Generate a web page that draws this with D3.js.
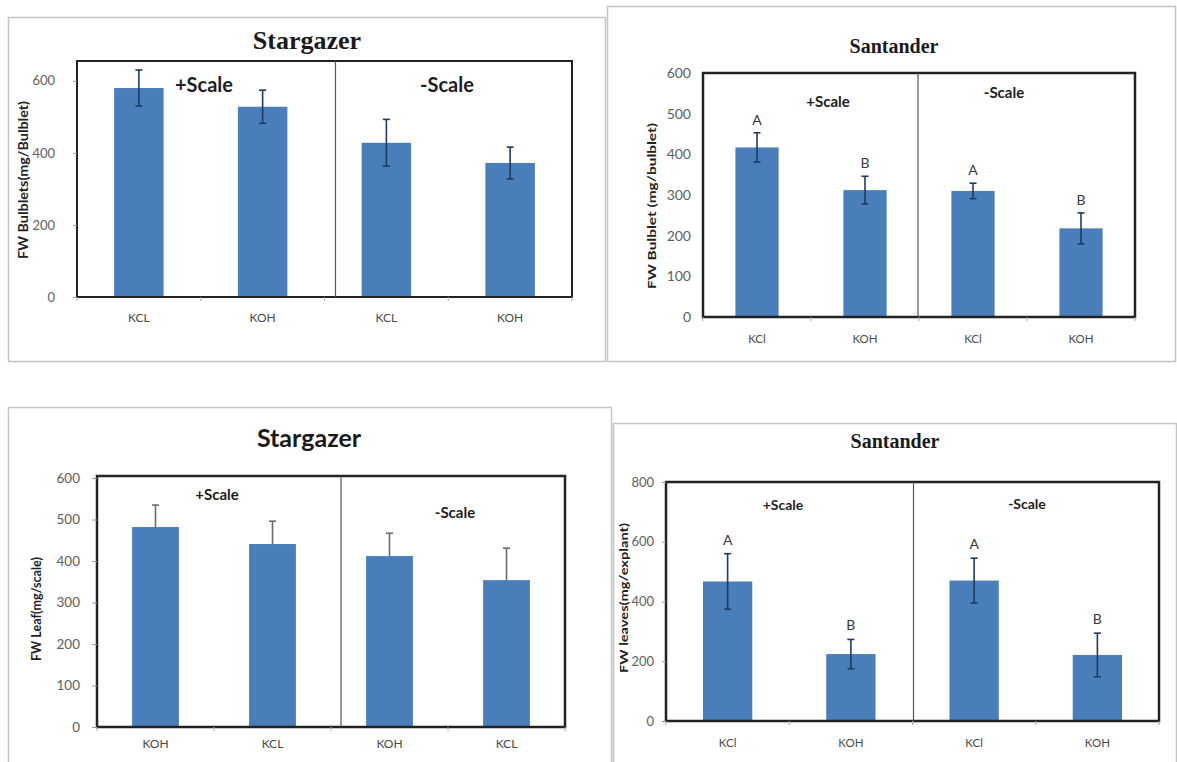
<!DOCTYPE html>
<html>
<head>
<meta charset="utf-8">
<script src="https://cdn.jsdelivr.net/npm/d3@7"></script>
<style>
  html, body { margin: 0; padding: 0; background: #fff; }
  svg { display: block; }
</style>
</head>
<body>
<svg id="chart" width="1177" height="762"></svg>
<script>
// ---- Data: fresh weight means and error bars ----
const groupLabels = ["+Scale", "-Scale"];

// Stargazer, bulblets
const bulbletCatsStar = ["KCL", "KOH", "KCL", "KOH"];
const bulbletMeansStar = [580, 528, 428, 372];
const bulbletErrStar = [50, 46, 65, 44];
const bulbletTicksStar = [0, 200, 400, 600];

// Santander, bulblets
const bulbletCatsSant = ["KCl", "KOH", "KCl", "KOH"];
const bulbletMeansSant = [417, 312, 310, 218];
const bulbletErrSant = [36, 34, 19, 38];
const bulbletLettersSant = ["A", "B", "A", "B"];
const bulbletTicksSant = [0, 100, 200, 300, 400, 500, 600];

// Stargazer, leaves
const leafCatsStar = ["KOH", "KCL", "KOH", "KCL"];
const leafMeansStar = [482, 441, 412, 354];
const leafErrStar = [53, 55, 55, 77];
const leafTicksStar = [0, 100, 200, 300, 400, 500, 600];

// Santander, leaves
const leafCatsSant = ["KCl", "KOH", "KCl", "KOH"];
const leafMeansSant = [467, 224, 470, 221];
const leafErrSant = [93, 49, 75, 73];
const leafLettersSant = ["A", "B", "A", "B"];
const leafTicksSant = [0, 200, 400, 600, 800];

const BAR = "#4a7ebb";
const svg = d3.select("#chart");

const panels = [
  {
    cats: bulbletCatsStar, means: bulbletMeansStar, errs: bulbletErrStar, ticks: bulbletTicksStar,
    box: [8, 17, 605, 361], plot: { l: 77, t: 61, r: 572, b: 297 }, yMax: 655,
    title: "Stargazer", titleFont: "Liberation Serif", titleSize: 26, titleX: 307, titleY: 49,
    yLabel: "FW Bulblets(mg/Bulblet)", yLabelX: 25, yLabelY: 180, yLabelLen: 158, yLabelSize: 12.5,
    groupPos: [[204, 92], [447, 92]], groupSize: 20,
    dividerShift: 11, errColor: "#1f3a62", errBoth: true,
    tickSize: 4, tickPad: 18, tickFont: 13, xPad: 16, xFont: 12, frameW: 2
  },
  {
    cats: bulbletCatsSant, means: bulbletMeansSant, errs: bulbletErrSant, ticks: bulbletTicksSant,
    letters: bulbletLettersSant, letterGap: 8,
    box: [607, 6, 1175, 361], plot: { l: 703, t: 73, r: 1135, b: 317 }, yMax: 600,
    title: "Santander", titleFont: "Liberation Serif", titleSize: 20, titleX: 894, titleY: 53,
    yLabel: "FW Bulblet  (mg/bulblet)", yLabelX: 653, yLabelY: 206, yLabelLen: 166, yLabelSize: 12,
    groupPos: [[828, 107], [1004, 98]], groupSize: 15,
    dividerShift: -1, errColor: "#1f3a62", errBoth: true,
    tickSize: 0, tickPad: 12, tickFont: 14, xPad: 18, xFont: 11.5, frameW: 2.5
  },
  {
    cats: leafCatsStar, means: leafMeansStar, errs: leafErrStar, ticks: leafTicksStar,
    box: [8, 407, 611, 775], plot: { l: 97, t: 476, r: 565, b: 727 }, yMax: 605,
    title: "Stargazer", titleFont: "Lato", titleSize: 25, titleX: 309, titleY: 447,
    yLabel: "FW Leaf(mg/scale)", yLabelX: 38, yLabelY: 609, yLabelLen: 104, yLabelSize: 13,
    groupPos: [[217, 500], [455, 518]], groupSize: 15,
    dividerShift: 10, errColor: "#6b6b6b", errBoth: false,
    tickSize: 5, tickPad: 12, tickFont: 13.5, xPad: 12, xFont: 12, frameW: 2.5
  },
  {
    cats: leafCatsSant, means: leafMeansSant, errs: leafErrSant, ticks: leafTicksSant,
    letters: leafLettersSant, letterGap: 9,
    box: [613, 423, 1176, 775], plot: { l: 666, t: 482, r: 1159, b: 721 }, yMax: 800,
    title: "Santander", titleFont: "Liberation Serif", titleSize: 20, titleX: 895, titleY: 448,
    yLabel: "FW leaves(mg/explant)", yLabelX: 625, yLabelY: 598, yLabelLen: 150, yLabelSize: 11.5,
    groupPos: [[783, 510], [1027, 509]], groupSize: 14,
    dividerShift: 1, errColor: "#1f3a62", errBoth: true,
    tickSize: 4, tickPad: 8, tickFont: 13, xPad: 18, xFont: 11.5, frameW: 2.5
  }
];

function drawPanel(p) {
  const g = svg.append("g");
  const [bx0, by0, bx1, by1] = p.box;

  // outer chart-area border
  g.append("rect")
    .attr("x", bx0 + 0.5).attr("y", by0 + 0.5)
    .attr("width", bx1 - bx0).attr("height", by1 - by0)
    .attr("fill", "#fff").attr("stroke", "#c4c4c4").attr("stroke-width", 1.5);

  const { l, t, r, b } = p.plot;
  const idx = d3.range(p.cats.length);
  const x = d3.scaleBand().domain(idx).range([l, r]).paddingInner(0.6).paddingOuter(0.3);
  const y = d3.scaleLinear().domain([0, p.yMax]).range([b, t]);
  const step = x.step();
  const cx = i => x(i) + x.bandwidth() / 2;

  // bars
  g.selectAll("rect.bar").data(idx).join("rect")
    .attr("class", "bar")
    .attr("x", i => x(i)).attr("width", x.bandwidth())
    .attr("y", i => y(p.means[i])).attr("height", i => y(0) - y(p.means[i]))
    .attr("fill", BAR);

  // error bars
  const eb = g.selectAll("g.err").data(idx).join("g").attr("class", "err")
    .attr("stroke", p.errColor).attr("stroke-width", 1.6);
  eb.append("line")
    .attr("x1", cx).attr("x2", cx)
    .attr("y1", i => y(p.means[i] + p.errs[i]))
    .attr("y2", i => p.errBoth ? y(p.means[i] - p.errs[i]) : y(p.means[i]));
  eb.append("line")
    .attr("x1", i => cx(i) - 3.5).attr("x2", i => cx(i) + 3.5)
    .attr("y1", i => y(p.means[i] + p.errs[i])).attr("y2", i => y(p.means[i] + p.errs[i]));
  if (p.errBoth) {
    eb.append("line")
      .attr("x1", i => cx(i) - 3.5).attr("x2", i => cx(i) + 3.5)
      .attr("y1", i => y(p.means[i] - p.errs[i])).attr("y2", i => y(p.means[i] - p.errs[i]));
  }

  // significance letters
  if (p.letters) {
    g.selectAll("text.letter").data(idx).join("text")
      .attr("class", "letter")
      .attr("x", cx).attr("y", i => y(p.means[i] + p.errs[i]) - p.letterGap)
      .attr("text-anchor", "middle")
      .attr("font-family", "Lato, sans-serif").attr("font-size", 14)
      .attr("fill", "#3a3a3a")
      .text(i => p.letters[i]);
  }

  // plot frame
  g.append("rect")
    .attr("x", l).attr("y", t).attr("width", r - l).attr("height", b - t)
    .attr("fill", "none").attr("stroke", "#222").attr("stroke-width", p.frameW);

  // divider between treatments
  const dx = l + step * 2 + p.dividerShift;
  g.append("line")
    .attr("x1", dx).attr("x2", dx).attr("y1", t).attr("y2", b)
    .attr("stroke", "#555").attr("stroke-width", 1.2);

  // y axis
  const ya = g.append("g")
    .attr("transform", `translate(${l},0)`)
    .call(d3.axisLeft(y).tickValues(p.ticks).tickSize(p.tickSize).tickPadding(p.tickPad));
  ya.select(".domain").remove();
  ya.selectAll(".tick line").attr("stroke", "#999");
  ya.selectAll(".tick text")
    .attr("font-family", "Lato, sans-serif").attr("font-size", p.tickFont).attr("fill", "#606060");

  // x axis labels
  const xa = g.append("g")
    .attr("transform", `translate(0,${b})`)
    .call(d3.axisBottom(x).tickFormat(i => p.cats[i]).tickSize(0).tickPadding(p.xPad));
  xa.select(".domain").remove();
  xa.selectAll(".tick text")
    .attr("font-family", "Lato, sans-serif").attr("font-size", p.xFont).attr("fill", "#4a4a4a");

  // category boundary ticks
  g.selectAll("line.xt").data(d3.range(p.cats.length + 1)).join("line")
    .attr("class", "xt")
    .attr("x1", k => l + step * k).attr("x2", k => l + step * k)
    .attr("y1", b).attr("y2", b + 4)
    .attr("stroke", "#aaa").attr("stroke-width", 1);

  // treatment labels
  g.selectAll("text.grp").data(groupLabels).join("text")
    .attr("class", "grp")
    .attr("x", (d, k) => p.groupPos[k][0]).attr("y", (d, k) => p.groupPos[k][1])
    .attr("text-anchor", "middle")
    .attr("font-family", "Lato, sans-serif").attr("font-weight", "bold")
    .attr("font-size", p.groupSize).attr("fill", "#1e1e1e")
    .text(d => d);

  // title
  g.append("text")
    .attr("x", p.titleX).attr("y", p.titleY)
    .attr("text-anchor", "middle")
    .attr("font-family", p.titleFont + ", serif").attr("font-weight", "bold")
    .attr("font-size", p.titleSize).attr("fill", "#1a1a1a")
    .text(p.title);

  // y-axis title
  g.append("text")
    .attr("transform", `translate(${p.yLabelX},${p.yLabelY}) rotate(-90)`)
    .attr("text-anchor", "middle").attr("dominant-baseline", "middle")
    .attr("font-family", "Lato, sans-serif").attr("font-weight", "bold")
    .attr("font-size", p.yLabelSize).attr("fill", "#222")
    .attr("textLength", p.yLabelLen).attr("lengthAdjust", "spacingAndGlyphs")
    .text(p.yLabel);
}

panels.forEach(drawPanel);
</script>
</body>
</html>
